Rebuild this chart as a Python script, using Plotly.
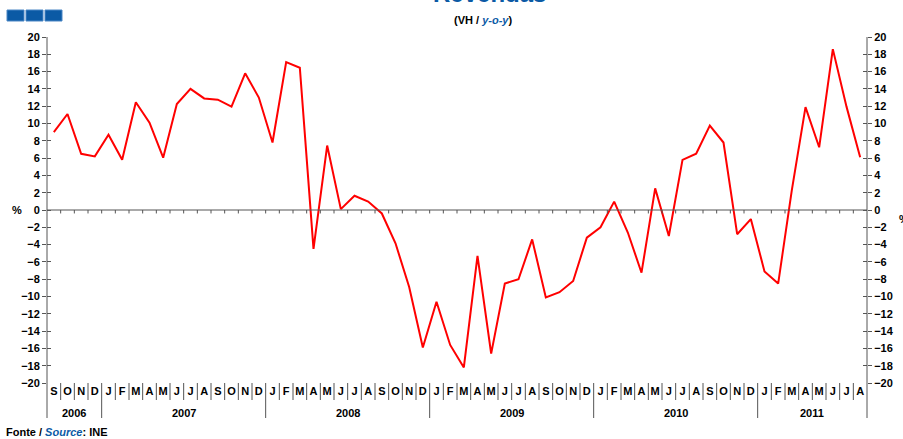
import plotly.graph_objects as go

months = ["S", "O", "N", "D",
          "J", "F", "M", "A", "M", "J", "J", "A", "S", "O", "N", "D",
          "J", "F", "M", "A", "M", "J", "J", "A", "S", "O", "N", "D",
          "J", "F", "M", "A", "M", "J", "J", "A", "S", "O", "N", "D",
          "J", "F", "M", "A", "M", "J", "J", "A", "S", "O", "N", "D",
          "J", "F", "M", "A", "M", "J", "J", "A"]
years = ["2006", "2007", "2008", "2009", "2010", "2011"]
months_per_year = [4, 12, 12, 12, 12, 8]
values = [9.0, 11.1, 6.5, 6.2,
          8.7, 5.8, 12.45, 10.1, 6.05, 12.25, 14.0, 12.9, 12.75, 11.95, 15.8, 13.0,
          7.8, 17.1, 16.45, -4.5, 7.45, 0.1, 1.65, 0.97, -0.4, -3.85, -8.9, -15.9,
          -10.6, -15.6, -18.2, -5.3, -16.6, -8.5, -8.0, -3.4, -10.1, -9.5, -8.2, -3.2,
          -2.0, 0.97, -2.6, -7.25, 2.5, -3.0, 5.8, 6.5, 9.75, 7.8, -2.8, -1.05,
          -7.1, -8.5, 2.3, 11.9, 7.25, 18.6, 11.95, 6.1]
y_ticks = list(range(-20, 21, 2))

n = len(values)
xs = list(range(n))

W, H = 903, 439
ml, mr, mt, mb = 47, 36, 37, 56
pw, ph = W - ml - mr, H - mt - mb

def px_to_paper_x(px):
    return (px - ml) / pw

def px_to_paper_y(py):
    return (H - mb - py) / ph

FONT = "Liberation Sans, Arial, sans-serif"
AX = "#555555"
BLUE = "#0B5AA5"

fig = go.Figure()
fig.add_trace(go.Scatter(x=xs, y=values, mode="lines",
                         line=dict(color="#FF0000", width=2),
                         hoverinfo="skip", showlegend=False))
for ax in ["y2", "y3", "y4"]:
    fig.add_trace(go.Scatter(x=xs, y=values, mode="lines", yaxis=ax,
                             line=dict(width=0), opacity=0,
                             hoverinfo="skip", showlegend=False))

tickfont = dict(family=FONT, size=11, color="#000", weight="bold")
common_y = dict(range=[-20, 20], tickvals=y_ticks, showgrid=False, zeroline=False,
                showline=False, ticklen=4, tickcolor=AX, tickwidth=1, automargin=False)

fig.update_layout(
    width=W, height=H,
    margin=dict(l=ml, r=mr, t=mt, b=mb, autoexpand=False),
    paper_bgcolor="white", plot_bgcolor="white",
    showlegend=False,
    xaxis=dict(range=[-0.5, n - 0.5], tickvals=xs, ticktext=months,
               ticks="", showgrid=False, zeroline=False, showline=False,
               tickfont=tickfont, tickangle=0, anchor="y", automargin=False),
    yaxis=dict(**common_y, ticks="outside", tickfont=tickfont, side="left"),
    yaxis2=dict(**common_y, ticks="outside", tickfont=tickfont, side="right",
                overlaying="y"),
    yaxis3=dict(**common_y, ticks="inside", showticklabels=False, side="left",
                overlaying="y"),
    yaxis4=dict(**common_y, ticks="inside", showticklabels=False, side="right",
                overlaying="y"),
)

shapes = []
bottom_year = px_to_paper_y(418)
bottom_month = px_to_paper_y(400)
# axis lines (extended down through label area)
for xp in [0, 1]:
    shapes.append(dict(type="line", xref="paper", yref="paper", x0=xp, x1=xp,
                       y0=bottom_year, y1=1, line=dict(color=AX, width=1)))
# zero line
shapes.append(dict(type="line", xref="paper", yref="y", x0=0, x1=1, y0=0, y1=0,
                   line=dict(color=AX, width=1)))
# ticks on zero line + month separators
year_bounds = set()
acc = 0
for m in months_per_year[:-1]:
    acc += m
    year_bounds.add(acc)
for k in range(1, n):
    xb = k - 0.5
    shapes.append(dict(type="line", xref="x", yref="y", x0=xb, x1=xb, y0=0, y1=-0.4,
                       line=dict(color=AX, width=1)))
    shapes.append(dict(type="line", xref="x", yref="paper", x0=xb, x1=xb,
                       y0=bottom_year if k in year_bounds else bottom_month, y1=0,
                       line=dict(color=AX, width=1)))
# blue squares
for i in range(3):
    x0 = 7 + i * 19
    shapes.append(dict(type="rect", xref="paper", yref="paper",
                       x0=px_to_paper_x(x0), x1=px_to_paper_x(x0 + 17),
                       y0=px_to_paper_y(21), y1=px_to_paper_y(10),
                       fillcolor=BLUE, line=dict(color="#4A86C5", width=1)))
fig.update_layout(shapes=shapes)

ann = []
acc = 0
for yr, m in zip(years, months_per_year):
    ann.append(dict(x=acc + (m - 1) / 2, xref="x", y=px_to_paper_y(413), yref="paper",
                    text=yr, showarrow=False, xanchor="center", yanchor="middle",
                    font=dict(family=FONT, size=11, color="#000", weight="bold")))
    acc += m
ann.append(dict(x=px_to_paper_x(4), xref="paper", y=px_to_paper_y(432), yref="paper",
                text="Fonte / <i><span style='color:%s'>Source</span></i>: INE" % BLUE,
                showarrow=False, xanchor="left", yanchor="middle",
                font=dict(family=FONT, size=11, color="#000", weight="bold")))
ann.append(dict(x=px_to_paper_x(483), xref="paper", y=px_to_paper_y(20), yref="paper",
                text="(VH / <i><span style='color:%s'>y-o-y</span></i>)" % BLUE,
                showarrow=False, xanchor="center", yanchor="middle",
                font=dict(family=FONT, size=11, color="#000", weight="bold")))
ann.append(dict(x=px_to_paper_x(489), xref="paper", y=px_to_paper_y(9), yref="paper",
                text="Revendas", showarrow=False, xanchor="center", yanchor="bottom",
                font=dict(family=FONT, size=24, color=BLUE, weight="bold")))
ann.append(dict(x=px_to_paper_x(17), xref="paper", y=0, yref="y",
                text="%", showarrow=False, xanchor="center", yanchor="middle",
                font=dict(family=FONT, size=11, color="#000", weight="bold")))
ann.append(dict(x=px_to_paper_x(897), xref="paper", y=-1, yref="y",
                text="%", showarrow=False, xanchor="left", yanchor="middle",
                font=dict(family=FONT, size=11, color="#000", weight="bold")))
fig.update_layout(annotations=ann)

fig.write_html("out.html", config={"responsive": False, "displayModeBar": False},
               post_script="document.body.style.margin='0';document.body.style.overflow='hidden';")
